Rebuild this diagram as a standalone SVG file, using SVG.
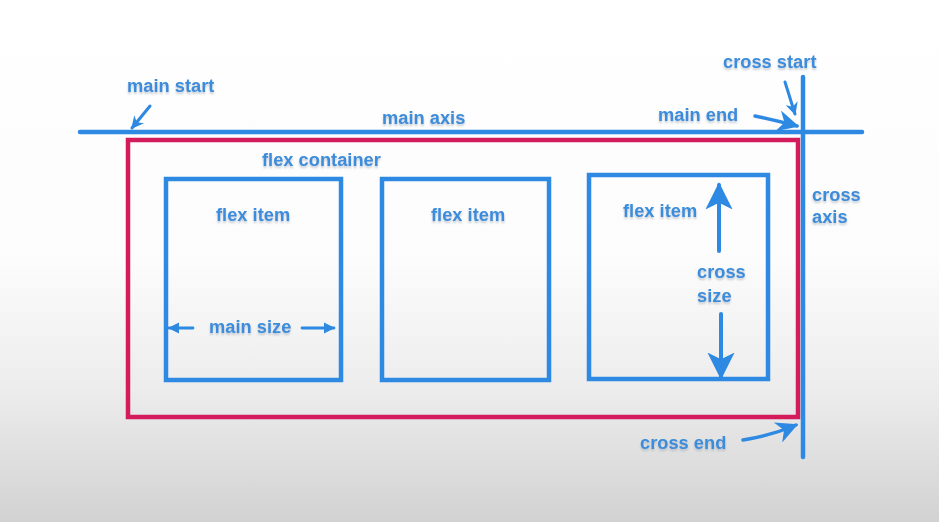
<svg xmlns="http://www.w3.org/2000/svg" width="939" height="522" viewBox="0 0 939 522">
<defs>
<linearGradient id="bg" x1="0" y1="0" x2="0" y2="1">
<stop offset="0" stop-color="#ffffff"/>
<stop offset="0.5" stop-color="#fcfcfc"/>
<stop offset="0.75" stop-color="#ececec"/>
<stop offset="1" stop-color="#d2d2d2"/>
</linearGradient>
<marker id="ah" viewBox="0 0 10 10" refX="9" refY="5" markerWidth="4.2" markerHeight="4.2" orient="auto" markerUnits="strokeWidth">
<path d="M0,0 L10,5 L0,10 L3,5 Z" fill="#2e89e2"/>
</marker>
<marker id="ahb" viewBox="0 0 10 10" refX="9" refY="5" markerWidth="6.8" markerHeight="6.2" orient="auto" markerUnits="strokeWidth">
<path d="M0,0 L10,5 L0,10 L3,5 Z" fill="#2e89e2"/>
</marker>
<marker id="ahs" viewBox="0 0 10 10" refX="9" refY="5" markerWidth="6.8" markerHeight="7" orient="auto" markerUnits="strokeWidth">
<path d="M0,0 L10,5 L0,10 L2.5,5 Z" fill="#2e89e2"/>
</marker>
<marker id="ahm" viewBox="0 0 10 10" refX="9" refY="5" markerWidth="4.2" markerHeight="4" orient="auto" markerUnits="strokeWidth">
<path d="M0,0 L10,5 L0,10 Z" fill="#2e89e2"/>
</marker>
<filter id="sh" x="-5%" y="-20%" width="110%" height="150%">
<feDropShadow dx="0" dy="2" stdDeviation="0.8" flood-color="#9aa6b4" flood-opacity="0.6"/>
</filter>
</defs>
<style>
.lbl{font-family:"Liberation Sans",Arial,sans-serif;font-weight:bold;font-size:18.3px;fill:#3a8ddc;filter:url(#sh)}
.ax{stroke:#2e89e2;stroke-width:4.5;fill:none;stroke-linecap:round}
.item{stroke:#2e89e2;stroke-width:4.5;fill:none}
.cont{stroke:#d41b5c;stroke-width:4.5;fill:none}
.arr{stroke:#2e89e2;fill:none;stroke-linecap:round}
</style>
<rect width="939" height="522" fill="url(#bg)"/>
<g id="container">
<rect class="cont" x="128" y="140" width="670" height="277"/>
<text class="lbl" x="262" y="166">flex container</text>
</g>
<g id="axes">
<line class="ax" x1="80" y1="132" x2="862" y2="132"/>
<line class="ax" x1="803" y1="77" x2="803" y2="457"/>
<text class="lbl" x="382" y="124">main axis</text>
<text class="lbl" x="812" y="201">cross</text>
<text class="lbl" x="812" y="223">axis</text>
</g>
<g id="item1">
<rect class="item" x="166" y="179" width="175" height="201"/>
<text class="lbl" x="216" y="221">flex item</text>
<text class="lbl" x="209" y="333">main size</text>
</g>
<g id="item2">
<rect class="item" x="382" y="179" width="167" height="201"/>
<text class="lbl" x="431" y="221">flex item</text>
</g>
<g id="item3">
<rect class="item" x="589" y="175" width="179" height="204"/>
<text class="lbl" x="623" y="217">flex item</text>
<text class="lbl" x="697" y="278">cross</text>
<text class="lbl" x="697" y="302">size</text>
</g>
<g id="labels">
<text class="lbl" x="127" y="92">main start</text>
<text class="lbl" x="723" y="68">cross start</text>
<text class="lbl" x="658" y="121">main end</text>
<text class="lbl" x="640" y="449">cross end</text>
</g>
<g id="connectors">
<line class="arr" stroke-width="3" x1="150" y1="106" x2="132" y2="128" marker-end="url(#ah)"/>
<line class="arr" stroke-width="3" x1="785" y1="82" x2="795" y2="114" marker-end="url(#ah)"/>
<path class="arr" stroke-width="3.5" d="M755,116 Q775,120 797,126" marker-end="url(#ahb)"/>
<path class="arr" stroke-width="3.5" d="M743,440 Q770,436 796,425" marker-end="url(#ahb)"/>
<line class="arr" stroke-width="4" x1="719" y1="251" x2="719" y2="185" marker-end="url(#ahs)"/>
<line class="arr" stroke-width="4" x1="721" y1="314" x2="721" y2="377" marker-end="url(#ahs)"/>
<line class="arr" stroke-width="2.8" x1="193" y1="328" x2="169" y2="328" marker-end="url(#ahm)"/>
<line class="arr" stroke-width="2.8" x1="302" y1="328" x2="334" y2="328" marker-end="url(#ahm)"/>
</g>
</svg>
